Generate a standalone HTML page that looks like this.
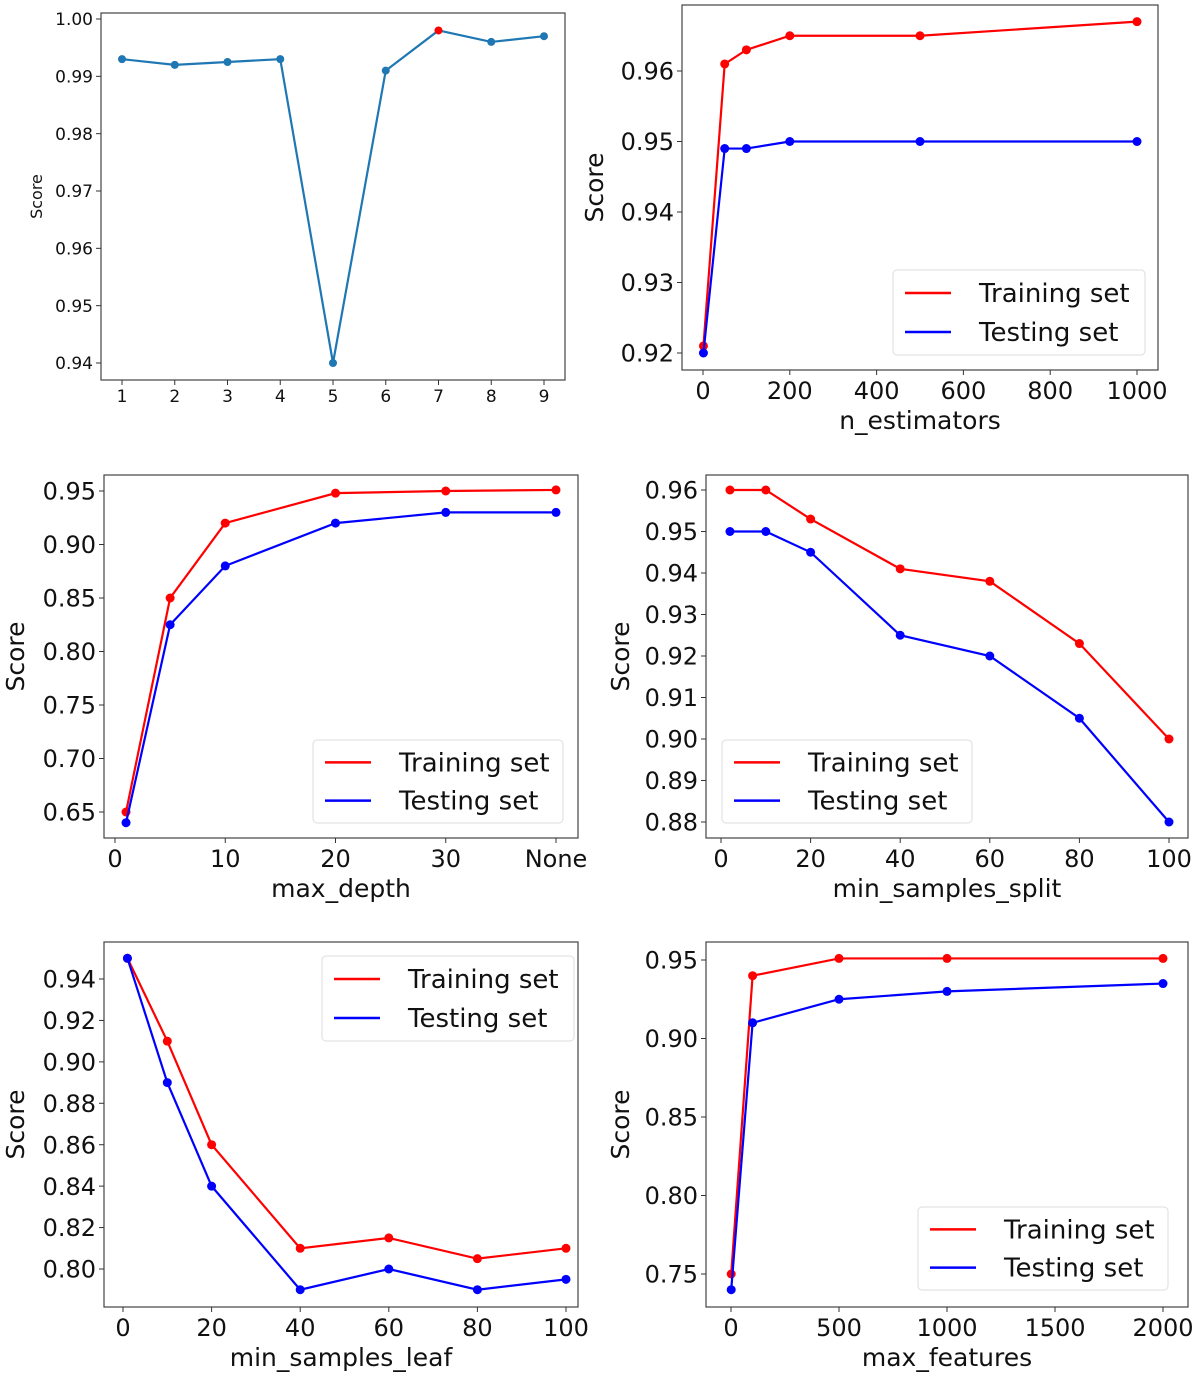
<!DOCTYPE html>
<html><head><meta charset="utf-8"><style>
body{margin:0;background:#fff;}
svg{display:block;font-family:"DejaVu Sans","Liberation Sans",sans-serif;}
</style></head><body>
<svg id="chart" width="1200" height="1379" viewBox="0 0 1200 1379" xmlns="http://www.w3.org/2000/svg"></svg>
<script>
// Panel 1: single series
const p1X = [1,2,3,4,5,6,7,8,9];
const p1Y = [0.993,0.992,0.9925,0.993,0.940,0.991,0.998,0.996,0.997];
const p1Best = 6;
const p1XTicks = [1,2,3,4,5,6,7,8,9];
const p1YTicks = [0.94,0.95,0.96,0.97,0.98,0.99,1.00];
// Panel 2: n_estimators
const p2X = [1,50,100,200,500,1000];
const p2Train = [0.921,0.961,0.963,0.965,0.965,0.967];
const p2Test = [0.920,0.949,0.949,0.950,0.950,0.950];
const p2XTicks = [0,200,400,600,800,1000];
const p2YTicks = [0.92,0.93,0.94,0.95,0.96];
// Panel 3: max_depth (None plotted at 40)
const p3X = [1,5,10,20,30,40];
const p3Train = [0.65,0.85,0.92,0.948,0.95,0.951];
const p3Test = [0.64,0.825,0.88,0.92,0.93,0.93];
const p3XTicks = [0,10,20,30,40];
const p3XTickLabels = ["0","10","20","30","None"];
const p3YTicks = [0.65,0.70,0.75,0.80,0.85,0.90,0.95];
// Panel 4: min_samples_split
const p4X = [2,10,20,40,60,80,100];
const p4Train = [0.96,0.96,0.953,0.941,0.938,0.923,0.90];
const p4Test = [0.95,0.95,0.945,0.925,0.92,0.905,0.88];
const p4XTicks = [0,20,40,60,80,100];
const p4YTicks = [0.88,0.89,0.90,0.91,0.92,0.93,0.94,0.95,0.96];
// Panel 5: min_samples_leaf
const p5X = [1,10,20,40,60,80,100];
const p5Train = [0.95,0.91,0.86,0.81,0.815,0.805,0.81];
const p5Test = [0.95,0.89,0.84,0.79,0.80,0.79,0.795];
const p5XTicks = [0,20,40,60,80,100];
const p5YTicks = [0.80,0.82,0.84,0.86,0.88,0.90,0.92,0.94];
// Panel 6: max_features
const p6X = [1,100,500,1000,2000];
const p6Train = [0.75,0.94,0.951,0.951,0.951];
const p6Test = [0.74,0.91,0.925,0.93,0.935];
const p6XTicks = [0,500,1000,1500,2000];
const p6YTicks = [0.75,0.80,0.85,0.90,0.95];

const NS="http://www.w3.org/2000/svg";
const svg=document.getElementById('chart');
function mk(tag,attrs,parent,text){const e=document.createElementNS(NS,tag);for(const k in attrs)e.setAttribute(k,attrs[k]);if(text!==undefined)e.textContent=text;(parent||svg).appendChild(e);return e;}

function panel(cfg){
  const g=mk('g',{});
  
  
  const sx=v=>cfg.px0+(v-cfg.x0)*(cfg.px1-cfg.px0)/(cfg.x1-cfg.x0);
  const sy=v=>cfg.py0+(v-cfg.y0)*(cfg.py1-cfg.py0)/(cfg.y1-cfg.y0);
  const b=cfg.box;
  const fr=mk('rect',{x:b[0],y:b[1],width:b[2]-b[0],height:b[3]-b[1],fill:'none',stroke:'#444','stroke-width':1.2},g);
  
  
  const fs=cfg.fs;
  cfg.xt.forEach((t,i)=>{const x=sx(t);
    mk('line',{x1:x,x2:x,y1:b[3],y2:b[3]+5,stroke:'#333'},g);
    const tx=mk('text',{x:x,y:b[3]+6+fs*0.95,'font-size':fs,'text-anchor':'middle',fill:'#111'},g,cfg.xl?cfg.xl[i]:String(t));
    
    });
  cfg.yt.forEach(t=>{const y=sy(t);
    mk('line',{x1:b[0]-5,x2:b[0],y1:y,y2:y,stroke:'#333'},g);
    const tx=mk('text',{x:b[0]-8,y:y+fs*0.36,'font-size':fs,'text-anchor':'end',fill:'#111'},g,t.toFixed(cfg.yd));
    
    });
  if(cfg.xlabel){const t=mk('text',{x:(b[0]+b[2])/2,y:cfg.xlabelY,'font-size':fs+1,'text-anchor':'middle',fill:'#111'},g,cfg.xlabel);
    }
  const yl=mk('text',{x:cfg.ylabelX,y:(b[1]+b[3])/2,'font-size':cfg.ylfs,'text-anchor':'middle',fill:'#111',transform:`rotate(-90 ${cfg.ylabelX} ${(b[1]+b[3])/2})`},g,'Score');
  
  cfg.series.forEach(s=>{
    const pts=s.y.map((v,i)=>sx(cfg.x[i])+','+sy(v)).join(' ');
    const pl=mk('polyline',{points:pts,fill:'none',stroke:s.color,'stroke-width':2.2},g);
    
    s.y.forEach((v,i)=>{const c=mk('circle',{cx:sx(cfg.x[i]),cy:sy(v),r:s.r||4.5,fill:(s.hi===i?'#ff0000':s.color)},g);
      });
  });
  if(cfg.legend){const L=cfg.legend;
    const lg=mk('g',{},g);
    mk('rect',{x:L[0],y:L[1],width:L[2]-L[0],height:L[3]-L[1],rx:4,fill:'#fff',stroke:'#ddd'},lg);
    const h=(L[3]-L[1]);
    [['Training set','#ff0000'],['Testing set','#0000ff']].forEach((e,i)=>{const yy=L[1]+h*(0.27+0.46*i);
      const eg=mk('g',{},lg);
      mk('line',{x1:L[0]+12,x2:L[0]+58,y1:yy,y2:yy,stroke:e[1],'stroke-width':2.5},eg);
      mk('text',{x:L[0]+86,y:yy+9,'font-size':26,fill:'#111'},eg,e[0]);});
  }
}
panel({name:'panel-1',box:[101,13,565,380],px0:122,px1:544,x0:1,x1:9,py0:19,py1:363,y0:1.0,y1:0.94,x:p1X,xt:p1XTicks,yt:p1YTicks,yd:2,fs:17,ylabelX:42,ylfs:16,
  series:[{name:'score',y:p1Y,color:'#1f77b4',hi:p1Best,r:4}]});
panel({name:'panel-n-estimators',box:[682,5,1158,370],px0:703,px1:1137,x0:0,x1:1000,py0:71,py1:353,y0:0.96,y1:0.92,x:p2X,xt:p2XTicks,yt:p2YTicks,yd:2,fs:24,ylabelX:603,ylfs:25,xlabel:'n_estimators',xlabelY:429,legend:[893,270,1145,355],
  series:[{name:'training',y:p2Train,color:'#ff0000'},{name:'testing',y:p2Test,color:'#0000ff'}]});
panel({name:'panel-max-depth',box:[104,475,578,838],px0:115,px1:556,x0:0,x1:40,py0:491,py1:812,y0:0.95,y1:0.65,x:p3X,xt:p3XTicks,xl:p3XTickLabels,yt:p3YTicks,yd:2,fs:24,ylabelX:24,ylfs:25,xlabel:'max_depth',xlabelY:897,legend:[313,740,563,823],
  series:[{name:'training',y:p3Train,color:'#ff0000'},{name:'testing',y:p3Test,color:'#0000ff'}]});
panel({name:'panel-min-samples-split',box:[706,475,1188,838],px0:721,px1:1169,x0:0,x1:100,py0:490,py1:822,y0:0.96,y1:0.88,x:p4X,xt:p4XTicks,yt:p4YTicks,yd:2,fs:24,ylabelX:629,ylfs:25,xlabel:'min_samples_split',xlabelY:897,legend:[722,740,972,823],
  series:[{name:'training',y:p4Train,color:'#ff0000'},{name:'testing',y:p4Test,color:'#0000ff'}]});
panel({name:'panel-min-samples-leaf',box:[104,942,578,1307],px0:123,px1:566,x0:0,x1:100,py0:979,py1:1269,y0:0.94,y1:0.80,x:p5X,xt:p5XTicks,yt:p5YTicks,yd:2,fs:24,ylabelX:24,ylfs:25,xlabel:'min_samples_leaf',xlabelY:1366,legend:[322,956,574,1041],
  series:[{name:'training',y:p5Train,color:'#ff0000'},{name:'testing',y:p5Test,color:'#0000ff'}]});
panel({name:'panel-max-features',box:[706,942,1188,1307],px0:731,px1:1163,x0:0,x1:2000,py0:960,py1:1274,y0:0.95,y1:0.75,x:p6X,xt:p6XTicks,yt:p6YTicks,yd:2,fs:24,ylabelX:629,ylfs:25,xlabel:'max_features',xlabelY:1366,legend:[918,1207,1168,1290],
  series:[{name:'training',y:p6Train,color:'#ff0000'},{name:'testing',y:p6Test,color:'#0000ff'}]});
</script>
</body></html>
